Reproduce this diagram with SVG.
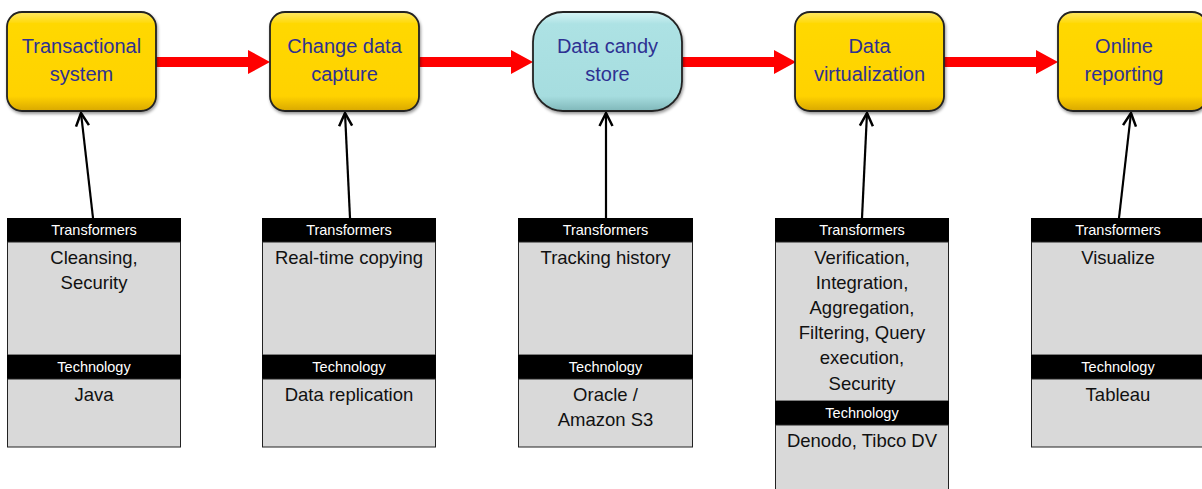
<svg xmlns="http://www.w3.org/2000/svg" width="1202" height="489" viewBox="0 0 1202 489">
<defs>
<linearGradient id="gy" x1="0" y1="0" x2="0" y2="1">
<stop offset="0" stop-color="#FFE866"/><stop offset="0.12" stop-color="#FFD800"/><stop offset="0.85" stop-color="#FFD200"/><stop offset="1" stop-color="#D9A800"/>
</linearGradient>
<linearGradient id="gc" x1="0" y1="0" x2="0" y2="1">
<stop offset="0" stop-color="#D6F4F5"/><stop offset="0.12" stop-color="#ADE2E4"/><stop offset="0.85" stop-color="#A6DDDF"/><stop offset="1" stop-color="#80B8BA"/>
</linearGradient>
<filter id="sh" x="-10%" y="-10%" width="130%" height="130%">
<feDropShadow dx="1" dy="2" stdDeviation="1.5" flood-color="#000" flood-opacity="0.4"/>
</filter>
<marker id="ah" markerWidth="18" markerHeight="16" refX="15" refY="8" orient="auto" markerUnits="userSpaceOnUse">
<path d="M2,1.5 L15,8 L2,14.5" fill="none" stroke="#000" stroke-width="2.5"/>
</marker>
</defs>
<style>
.node{stroke:#222;stroke-width:1.8;filter:url(#sh)}
.nt{font-family:"Liberation Sans",Arial,sans-serif;font-size:20px;fill:#2E3192;text-anchor:middle}
.hd{fill:#000}
.bd{fill:#D9D9D9;stroke:#222;stroke-width:1}
.ht{font-family:"Liberation Sans",Arial,sans-serif;font-size:14.5px;fill:#fff;text-anchor:middle}
.bt{font-family:"Liberation Sans",Arial,sans-serif;font-size:18.5px;fill:#111;text-anchor:middle}
.red{fill:#FF0000}
.blk{stroke:#000;stroke-width:2.2;fill:none;marker-end:url(#ah)}
</style>
<rect width="1202" height="489" fill="#fff"/>
<g id="connectors">
<path class="red" d="M156,57 H248 V50 L270,62 L248,74 V67 H156 Z"/>
<path class="red" d="M419,57 H511 V50 L533,62 L511,74 V67 H419 Z"/>
<path class="red" d="M682,57 H774 V50 L796,62 L774,74 V67 H682 Z"/>
<path class="red" d="M944,57 H1036 V50 L1058,62 L1036,74 V67 H944 Z"/>
<line class="blk" x1="93" y1="218" x2="81" y2="113"/>
<line class="blk" x1="350" y1="218" x2="345" y2="113"/>
<line class="blk" x1="606" y1="218" x2="606" y2="113"/>
<line class="blk" x1="862" y1="218" x2="867" y2="113"/>
<line class="blk" x1="1119" y1="218" x2="1131" y2="113"/>
</g>
<g id="n1"><rect class="node" x="7" y="12" width="149" height="99" rx="15" fill="url(#gy)"/><text class="nt" x="81.5" y="53">Transactional</text><text class="nt" x="81.5" y="81">system</text></g>
<g id="n2"><rect class="node" x="270" y="12" width="149" height="99" rx="15" fill="url(#gy)"/><text class="nt" x="344.5" y="53">Change data</text><text class="nt" x="344.5" y="81">capture</text></g>
<g id="n3"><rect class="node" x="533" y="12" width="149" height="99" rx="30" fill="url(#gc)"/><text class="nt" x="607.5" y="53">Data candy</text><text class="nt" x="607.5" y="81">store</text></g>
<g id="n4"><rect class="node" x="795" y="12" width="149" height="99" rx="15" fill="url(#gy)"/><text class="nt" x="869.5" y="53">Data</text><text class="nt" x="869.5" y="81">virtualization</text></g>
<g id="n5"><rect class="node" x="1058" y="12" width="149" height="99" rx="15" fill="url(#gy)"/><text class="nt" x="1124" y="53">Online</text><text class="nt" x="1124" y="81">reporting</text></g>
<g id="t1">
<rect class="hd" x="7" y="218" width="174" height="24"/><text class="ht" x="94" y="235">Transformers</text>
<rect class="bd" x="7.5" y="242" width="173" height="113"/><text class="bt" x="94" y="264">Cleansing,</text><text class="bt" x="94" y="289">Security</text>
<rect class="hd" x="7" y="355" width="174" height="24"/><text class="ht" x="94" y="372">Technology</text>
<rect class="bd" x="7.5" y="379" width="173" height="68"/><text class="bt" x="94" y="401">Java</text>
</g>
<g id="t2">
<rect class="hd" x="262" y="218" width="174" height="24"/><text class="ht" x="349" y="235">Transformers</text>
<rect class="bd" x="262.5" y="242" width="173" height="113"/><text class="bt" x="349" y="264">Real-time copying</text>
<rect class="hd" x="262" y="355" width="174" height="24"/><text class="ht" x="349" y="372">Technology</text>
<rect class="bd" x="262.5" y="379" width="173" height="68"/><text class="bt" x="349" y="401">Data replication</text>
</g>
<g id="t3">
<rect class="hd" x="518" y="218" width="175" height="24"/><text class="ht" x="605.5" y="235">Transformers</text>
<rect class="bd" x="518.5" y="242" width="174" height="113"/><text class="bt" x="605.5" y="264">Tracking history</text>
<rect class="hd" x="518" y="355" width="175" height="24"/><text class="ht" x="605.5" y="372">Technology</text>
<rect class="bd" x="518.5" y="379" width="174" height="68"/><text class="bt" x="605.5" y="401">Oracle /</text><text class="bt" x="605.5" y="426">Amazon S3</text>
</g>
<g id="t4">
<rect class="hd" x="775" y="218" width="174" height="24"/><text class="ht" x="862" y="235">Transformers</text>
<rect class="bd" x="775.5" y="242" width="173" height="159"/>
<text class="bt" x="862" y="264">Verification,</text><text class="bt" x="862" y="289">Integration,</text><text class="bt" x="862" y="314">Aggregation,</text><text class="bt" x="862" y="339">Filtering, Query</text><text class="bt" x="862" y="364">execution,</text><text class="bt" x="862" y="390">Security</text>
<rect class="hd" x="775" y="401" width="174" height="24"/><text class="ht" x="862" y="418">Technology</text>
<rect class="bd" x="775.5" y="425" width="173" height="70"/><text class="bt" x="862" y="447">Denodo, Tibco DV</text>
</g>
<g id="t5">
<rect class="hd" x="1031" y="218" width="174" height="24"/><text class="ht" x="1118" y="235">Transformers</text>
<rect class="bd" x="1031.5" y="242" width="173" height="113"/><text class="bt" x="1118" y="264">Visualize</text>
<rect class="hd" x="1031" y="355" width="174" height="24"/><text class="ht" x="1118" y="372">Technology</text>
<rect class="bd" x="1031.5" y="379" width="173" height="68"/><text class="bt" x="1118" y="401">Tableau</text>
</g>
</svg>
